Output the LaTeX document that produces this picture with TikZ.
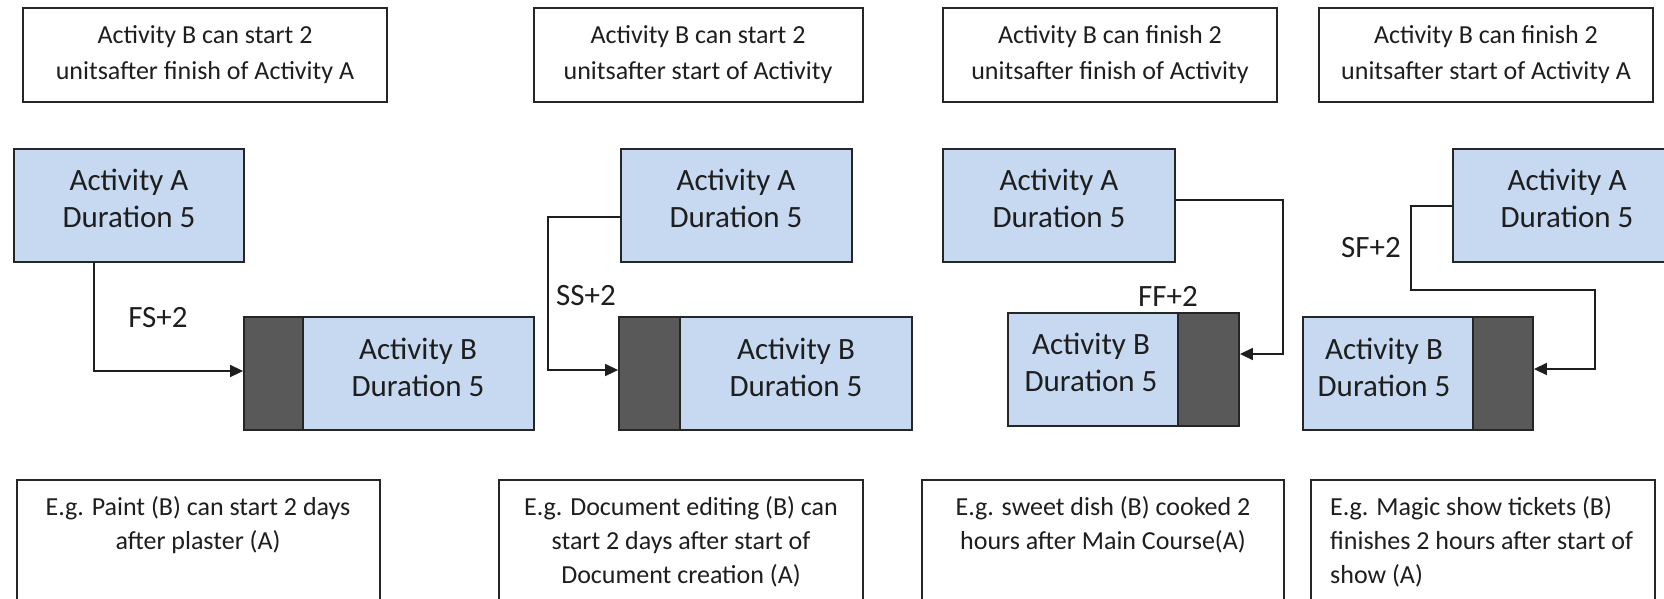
\documentclass[tikz,border=0pt]{standalone}
\usepackage{fontspec}
\setmainfont{Carlito}
\usetikzlibrary{arrows.meta,fit}
\definecolor{actfill}{HTML}{C6D9F1}
\definecolor{lagfill}{HTML}{595959}
\definecolor{edgecol}{HTML}{262626}
\definecolor{ink}{HTML}{1E1E1E}
\tikzset{
  actbox/.style={draw=edgecol, line width=1.8pt, fill=actfill, inner sep=0pt},
  lagbox/.style={draw=edgecol, line width=1.8pt, fill=lagfill, inner sep=0pt},
  notebox/.style={draw=edgecol, line width=1.6pt, fill=white, inner sep=0pt},
  acttext/.style={text=ink, align=center, font=\fontsize{31}{37}\selectfont, inner sep=0pt},
  notetext/.style={text=ink, align=center, font=\fontsize{26}{35}\selectfont, inner sep=0pt},
  lagtext/.style={text=ink, font=\fontsize{31}{37}\selectfont, inner sep=0pt},
  conn/.style={draw=ink, line width=1.6pt, -{Triangle[length=13pt,width=12pt]}}
}
\begin{document}
\begin{tikzpicture}[x=1pt,y=-1pt]
\useasboundingbox (0,0) rectangle (1664,598);
\clip (0,0) rectangle (1664,598);

% definitions of the four lag types
\node[notebox, fit={(23,8) (387,102)}] (t1) {};
\node[notetext, font=\fontsize{26}{36}\selectfont] (t1t) at (205,55) {Activity B can start 2\\unitsafter finish of Activity A};
\node[notebox, fit={(534,8) (863,102)}] (t2) {};
\node[notetext, font=\fontsize{26}{36}\selectfont] (t2t) at (698,55) {Activity B can start 2\\unitsafter start of Activity};
\node[notebox, fit={(943,8) (1277,102)}] (t3) {};
\node[notetext, font=\fontsize{26}{36}\selectfont] (t3t) at (1110,55) {Activity B can finish 2\\unitsafter finish of Activity};
\node[notebox, fit={(1319,8) (1653,102)}] (t4) {};
\node[notetext, font=\fontsize{26}{36}\selectfont] (t4t) at (1486,55) {Activity B can finish 2\\unitsafter start of Activity A};

% finish to start
\node[actbox, fit={(14,149) (244,262)}] (a1) {};
\node[acttext] (a1t) at (129,198) {Activity A\\Duration 5};
\node[lagbox, fit={(244,317) (303,430)}] (b1lag) {};
\node[actbox, fit={(303,317) (534,430)}] (b1) {};
\node[acttext] (b1t) at (418,367) {Activity B\\Duration 5};
\coordinate (k1) at (94,371);
\draw[conn] (a1.south -| k1) -- (k1) -- (b1lag.west |- k1);
\node[lagtext] (l1) at (158,318) {FS+2};

% start to start
\node[actbox, fit={(621,149) (852,262)}] (a2) {};
\node[acttext] (a2t) at (736,198) {Activity A\\Duration 5};
\node[lagbox, fit={(619,317) (680,430)}] (b2lag) {};
\node[actbox, fit={(680,317) (912,430)}] (b2) {};
\node[acttext] (b2t) at (796,367) {Activity B\\Duration 5};
\coordinate (k2a) at (548,217);
\coordinate (k2b) at (548,370);
\draw[conn] (a2.west |- k2a) -- (k2a) -- (k2b) -- (b2lag.west |- k2b);
\node[lagtext] (l2) at (586,296) {SS+2};

% finish to finish
\node[actbox, fit={(943,149) (1175,262)}] (a3) {};
\node[acttext] (a3t) at (1059,198) {Activity A\\Duration 5};
\node[actbox, fit={(1008,313) (1178,426)}] (b3) {};
\node[lagbox, fit={(1178,313) (1239,426)}] (b3lag) {};
\node[acttext] (b3t) at (1091,362) {Activity B\\Duration 5};
\coordinate (k3a) at (1283,200);
\coordinate (k3b) at (1283,354);
\draw[conn] (a3.east |- k3a) -- (k3a) -- (k3b) -- (b3lag.east |- k3b);
\node[lagtext] (l3) at (1168,296) {FF+2};

% start to finish
\node[actbox, fit={(1453,149) (1681,262)}] (a4) {};
\node[acttext] (a4t) at (1567,198) {Activity A\\Duration 5};
\node[actbox, fit={(1303,317) (1473,430)}] (b4) {};
\node[lagbox, fit={(1473,317) (1533,430)}] (b4lag) {};
\node[acttext] (b4t) at (1384,367) {Activity B\\Duration 5};
\coordinate (k4a) at (1411,206);
\coordinate (k4b) at (1411,290);
\coordinate (k4c) at (1595,290);
\coordinate (k4d) at (1595,369);
\draw[conn] (a4.west |- k4a) -- (k4a) -- (k4b) -- (k4c) -- (k4d) -- (b4lag.east |- k4d);
\node[lagtext] (l4) at (1371,248) {SF+2};

% everyday examples
\node[notebox, fit={(17,480) (380,640)}] (e1) {};
\node[notetext, font=\fontsize{26}{34}\selectfont] (e1t) at (198,525) {E.g. Paint (B) can start 2 days\\after plaster (A)};
\node[notebox, fit={(499,480) (863,640)}] (e2) {};
\node[notetext, font=\fontsize{26}{34}\selectfont] (e2t) at (681,542) {E.g. Document editing (B) can\\start 2 days after start of\\Document creation (A)};
\node[notebox, fit={(922,480) (1284,640)}] (e3) {};
\node[notetext, font=\fontsize{26}{34}\selectfont] (e3t) at (1103,525) {E.g. sweet dish (B) cooked 2\\hours after Main Course(A)};
\node[notebox, fit={(1311,480) (1655,640)}] (e4) {};
\node[notetext, align=left, anchor=west, font=\fontsize{26}{34}\selectfont] (e4t) at (1330,542) {E.g. Magic show tickets (B)\\finishes 2 hours after start of\\show (A)};
\end{tikzpicture}
\end{document}
